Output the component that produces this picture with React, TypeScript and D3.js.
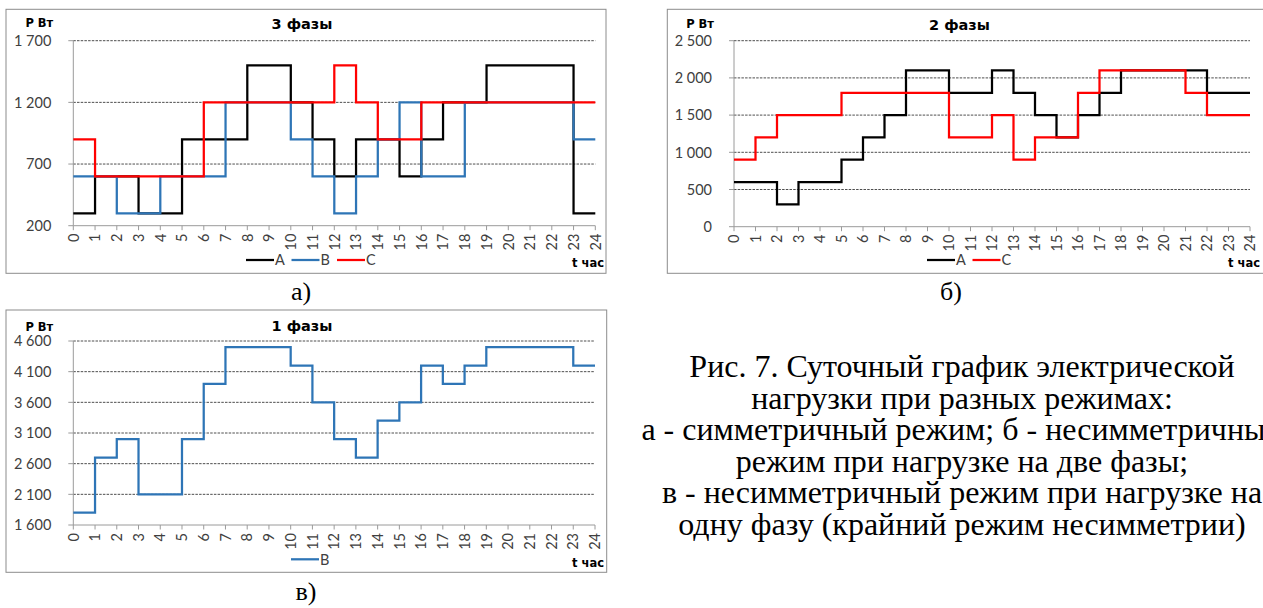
import React from "react";
import * as d3 from "d3";

// Hours of the day (axis ticks 0..24)
const HOURS = d3.range(0, 25);

// Three-phase load, W, hourly values for hours 0..23
const A3 = [300, 600, 600, 300, 300, 900, 900, 900, 1500, 1500, 1200, 900, 600, 900, 900, 600, 900, 1200, 1200, 1500, 1500, 1500, 1500, 300];
const B3 = [600, 600, 300, 300, 600, 600, 600, 1200, 1200, 1200, 900, 600, 300, 600, 900, 1200, 600, 600, 1200, 1200, 1200, 1200, 1200, 900];
const C3 = [900, 600, 600, 600, 600, 600, 1200, 1200, 1200, 1200, 1200, 1200, 1500, 1200, 900, 900, 1200, 1200, 1200, 1200, 1200, 1200, 1200, 1200];
const TICKS3 = [200, 700, 1200, 1700];

// Two-phase load, W
const A2 = [600, 600, 300, 600, 600, 900, 1200, 1500, 2100, 2100, 1800, 1800, 2100, 1800, 1500, 1200, 1500, 1800, 2100, 2100, 2100, 2100, 1800, 1800];
const C2 = [900, 1200, 1500, 1500, 1500, 1800, 1800, 1800, 1800, 1800, 1200, 1200, 1500, 900, 1200, 1200, 1800, 2100, 2100, 2100, 2100, 1800, 1500, 1500];
const TICKS2 = [0, 500, 1000, 1500, 2000, 2500];

// Single-phase load, W
const B1 = [1800, 2700, 3000, 2100, 2100, 3000, 3900, 4500, 4500, 4500, 4200, 3600, 3000, 2700, 3300, 3600, 4200, 3900, 4200, 4500, 4500, 4500, 4500, 4200];
const TICKS1 = [1600, 2100, 2600, 3100, 3600, 4100, 4600];

const CAPTION = [
  "Рис. 7. Суточный график электрической",
  "нагрузки при разных режимах:",
  "а - симметричный режим; б - несимметричный",
  "режим при нагрузке на две фазы;",
  "в - несимметричный режим при нагрузке на",
  "одну фазу (крайний режим несимметрии)",
];

const COLORS: Record<string, string> = { A: "#000000", B: "#2E75B6", C: "#FF0000" };

const fmt = d3
  .formatLocale({ decimal: ",", thousands: " ", grouping: [3], currency: ["", ""] })
  .format(",");

const TICK_FONT = "Lato, 'Open Sans', sans-serif";
const BOLD_FONT = "'DejaVu Sans', Verdana, sans-serif";
const SERIF = "'Liberation Serif', 'Times New Roman', serif";

type Series = { name: string; values: number[] };

type ChartProps = {
  frame: { x: number; y: number; w: number; h: number };
  plot: { left: number; right: number; top: number; bottom: number };
  title: string;
  titleX: number;
  titleY: number;
  unitY: number;
  yTicks: number[];
  series: Series[];
  legendX: number;
  legendY: number;
  xLabelRight: number;
  xLabelY: number;
};

function StepChart(p: ChartProps) {
  const x = d3.scaleLinear().domain([0, 24]).range([p.plot.left, p.plot.right]);
  const y = d3
    .scaleLinear()
    .domain([p.yTicks[0], p.yTicks[p.yTicks.length - 1]])
    .range([p.plot.bottom, p.plot.top]);
  const line = d3
    .line<[number, number]>()
    .x((d) => x(d[0]))
    .y((d) => y(d[1]))
    .curve(d3.curveStepAfter);
  const labelRight = p.plot.left - 22;

  return (
    <g>
      <rect x={p.frame.x} y={p.frame.y} width={p.frame.w} height={p.frame.h} fill="#fff" stroke="#8c8c8c" strokeWidth={1} />
      {/* horizontal gridlines */}
      {p.yTicks.slice(1).map((t) => (
        <line key={"g" + t} x1={p.plot.left} x2={p.plot.right} y1={y(t)} y2={y(t)} stroke="#3a3a3a" strokeWidth={0.9} strokeDasharray="2.5 1.2" />
      ))}
      {/* axes */}
      <line x1={p.plot.left} x2={p.plot.left} y1={p.plot.top} y2={p.plot.bottom} stroke="#9a9a9a" strokeWidth={1} />
      <line x1={p.plot.left} x2={p.plot.right} y1={p.plot.bottom} y2={p.plot.bottom} stroke="#9a9a9a" strokeWidth={1} />
      {p.yTicks.map((t) => (
        <line key={"yt" + t} x1={p.plot.left - 5} x2={p.plot.left} y1={y(t)} y2={y(t)} stroke="#9a9a9a" strokeWidth={1} />
      ))}
      {HOURS.map((h) => (
        <line key={"xt" + h} x1={x(h)} x2={x(h)} y1={p.plot.bottom} y2={p.plot.bottom + 4.5} stroke="#9a9a9a" strokeWidth={1} />
      ))}
      {/* y tick labels */}
      {p.yTicks.map((t) => (
        <text key={"yl" + t} x={labelRight} y={y(t)} dy="0.36em" textAnchor="end" fontFamily={TICK_FONT} fontSize={14.5} fill="#404040">
          {fmt(t)}
        </text>
      ))}
      {/* x tick labels, rotated */}
      {HOURS.map((h) => (
        <text
          key={"xl" + h}
          transform={`translate(${x(h)},${p.plot.bottom + 8}) rotate(-90)`}
          dy="0.36em"
          textAnchor="end"
          fontFamily={TICK_FONT}
          fontSize={14.5}
          fill="#404040"
        >
          {h}
        </text>
      ))}
      {/* series */}
      {p.series.map((s) => {
        const pts: [number, number][] = s.values.map((v, i) => [i, v] as [number, number]);
        pts.push([24, s.values[s.values.length - 1]]);
        return <path key={s.name} d={line(pts) || ""} fill="none" stroke={COLORS[s.name]} strokeWidth={2.25} strokeLinejoin="miter" />;
      })}
      {/* unit and title */}
      <text x={labelRight + 2} y={p.unitY} textAnchor="end" fontFamily={BOLD_FONT} fontWeight="bold" fontSize={11.5} fill="#000">
        P Вт
      </text>
      <text x={p.titleX} y={p.titleY} textAnchor="middle" fontFamily={BOLD_FONT} fontWeight="bold" fontSize={14.5} fill="#000">
        {p.title}
      </text>
      {/* legend */}
      {p.series.map((s, i) => {
        const lx = p.legendX + i * 45.5;
        return (
          <g key={"lg" + s.name}>
            <line x1={lx} x2={lx + 28} y1={p.legendY} y2={p.legendY} stroke={COLORS[s.name]} strokeWidth={2.25} />
            <text x={lx + 29} y={p.legendY} dy="0.36em" fontFamily={TICK_FONT} fontSize={14.5} fill="#404040">
              {s.name}
            </text>
          </g>
        );
      })}
      <text x={p.xLabelRight} y={p.xLabelY} textAnchor="end" fontFamily={BOLD_FONT} fontWeight="bold" fontSize={11.5} fill="#000">
        t час
      </text>
    </g>
  );
}

export default function App() {
  return (
    <svg width={1263} height={608} style={{ position: "absolute", left: 0, top: 0, background: "#fff" }}>
      <rect x={0} y={0} width={1263} height={608} fill="#fff" />
      <StepChart
        frame={{ x: 6, y: 9.3, w: 600, h: 264 }}
        plot={{ left: 73.3, right: 595.3, top: 40.7, bottom: 225.7 }}
        title="3 фазы"
        titleX={302}
        titleY={29}
        unitY={26.7}
        yTicks={TICKS3}
        series={[
          { name: "A", values: A3 },
          { name: "B", values: B3 },
          { name: "C", values: C3 },
        ]}
        legendX={246}
        legendY={260}
        xLabelRight={604}
        xLabelY={266.7}
      />
      <StepChart
        frame={{ x: 667.3, y: 9.3, w: 605, h: 264 }}
        plot={{ left: 734, right: 1250, top: 40.7, bottom: 226.7 }}
        title="2 фазы"
        titleX={959.5}
        titleY={29.5}
        unitY={28.3}
        yTicks={TICKS2}
        series={[
          { name: "A", values: A2 },
          { name: "C", values: C2 },
        ]}
        legendX={927}
        legendY={260}
        xLabelRight={1260}
        xLabelY={266.7}
      />
      <StepChart
        frame={{ x: 6, y: 310, w: 600.7, h: 262.3 }}
        plot={{ left: 73.3, right: 595, top: 341, bottom: 525 }}
        title="1 фазы"
        titleX={302}
        titleY={331}
        unitY={330.5}
        yTicks={TICKS1}
        series={[{ name: "B", values: B1 }]}
        legendX={291}
        legendY={559.3}
        xLabelRight={604}
        xLabelY={566.7}
      />
      {/* sub-figure labels */}
      <text x={301} y={300} textAnchor="middle" fontFamily={SERIF} fontSize={26} fill="#000">а)</text>
      <text x={951} y={300} textAnchor="middle" fontFamily={SERIF} fontSize={26} fill="#000">б)</text>
      <text x={306} y={600} textAnchor="middle" fontFamily={SERIF} fontSize={26} fill="#000">в)</text>
      {/* figure caption */}
      {CAPTION.map((s, i) => (
        <text key={i} x={962} y={377 + i * 31.6} textAnchor="middle" fontFamily={SERIF} fontSize={32} fill="#000">
          {s}
        </text>
      ))}
    </svg>
  );
}
